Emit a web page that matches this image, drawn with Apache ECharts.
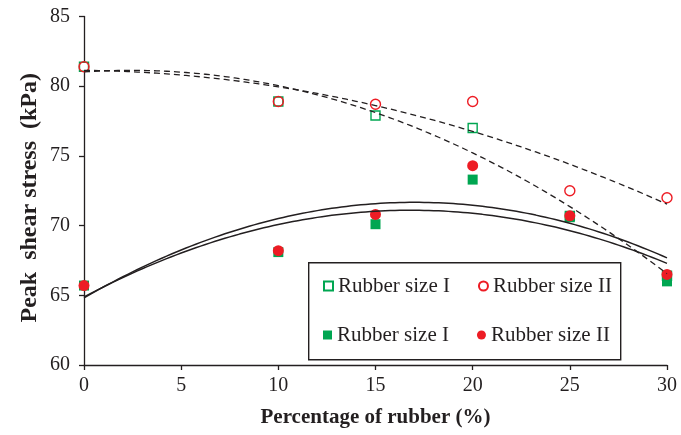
<!DOCTYPE html>
<html>
<head>
<meta charset="utf-8">
<script src="https://cdn.jsdelivr.net/npm/echarts@6/dist/echarts.min.js"></script>
<style>
  html, body { margin: 0; padding: 0; background: #fff; }
  #chart { width: 681px; height: 435px; }
</style>
</head>
<body>
<div id="chart"></div>
<script>
// Rubber content (%) and measured peak shear stress (kPa)
const rubberPct  = [0, 10, 15, 20, 25, 30];
const openSizeI  = [81.4, 78.9, 77.9, 77.0, 70.7, 66.4];
const openSizeII = [81.4, 78.9, 78.7, 78.9, 72.5, 72.0];
const fillSizeI  = [65.7, 68.1, 70.1, 73.3, 70.6, 66.0];
const fillSizeII = [65.7, 68.2, 70.8, 74.3, 70.7, 66.5];

const xTicks = [0, 5, 10, 15, 20, 25, 30];
const yTicks = [60, 65, 70, 75, 80, 85];

const seriesLabels = {
  openI: 'Rubber size I',
  openII: 'Rubber size II',
  fillI: 'Rubber size I',
  fillII: 'Rubber size II'
};

const GREEN = '#00a651';
const RED = '#ed1c24';
const INK = '#231f20';
const SERIF = '"Liberation Serif", "Times New Roman", serif';

// Least-squares second-order polynomial trend (y = c + b x + a x^2)
function quadFit(xs, ys) {
  const S = [0, 0, 0, 0, 0], T = [0, 0, 0];
  xs.forEach((x, i) => {
    for (let k = 0; k < 5; k++) S[k] += Math.pow(x, k);
    for (let k = 0; k < 3; k++) T[k] += Math.pow(x, k) * ys[i];
  });
  const M = [[S[0], S[1], S[2]], [S[1], S[2], S[3]], [S[2], S[3], S[4]]];
  const det = m => m[0][0] * (m[1][1] * m[2][2] - m[1][2] * m[2][1])
                 - m[0][1] * (m[1][0] * m[2][2] - m[1][2] * m[2][0])
                 + m[0][2] * (m[1][0] * m[2][1] - m[1][1] * m[2][0]);
  const D = det(M);
  const coef = [0, 1, 2].map(col => {
    const m = M.map((row, r) => row.map((v, c) => (c === col ? T[r] : v)));
    return det(m) / D;
  });
  return x => coef[0] + coef[1] * x + coef[2] * x * x;
}

function trendPoints(ys) {
  const f = quadFit(rubberPct, ys);
  const x0 = rubberPct[0], x1 = rubberPct[rubberPct.length - 1];
  const pts = [];
  for (let i = 0; i <= 120; i++) {
    const x = x0 + (x1 - x0) * i / 120;
    pts.push([x, f(x)]);
  }
  return pts;
}

const pairs = ys => rubberPct.map((x, i) => [x, ys[i]]);

function trendSeries(ys, dashed) {
  return {
    type: 'line',
    data: trendPoints(ys),
    showSymbol: false,
    silent: true,
    z: 5,
    lineStyle: {
      color: INK,
      width: dashed ? 1.3 : 1.5,
      type: dashed ? [6, 4] : 'solid'
    }
  };
}

const chart = echarts.init(document.getElementById('chart'), null, { renderer: 'canvas' });

const legendBase = {
  orient: 'horizontal',
  left: 323,
  padding: 0,
  itemGap: 28,
  itemWidth: 9,
  itemHeight: 9,
  z: 12,
  selectedMode: false,
  formatter: name => seriesLabels[name],
  textStyle: { fontFamily: SERIF, fontSize: 21, color: INK, lineHeight: 22 }
};

chart.setOption({
  animation: false,
  backgroundColor: '#fff',
  grid: { left: 84, right: 14, top: 16.5, bottom: 70 },
  xAxis: {
    type: 'value',
    min: xTicks[0],
    max: xTicks[xTicks.length - 1],
    interval: xTicks[1] - xTicks[0],
    name: 'Percentage of rubber (%)',
    nameLocation: 'middle',
    nameGap: 42,
    nameTextStyle: { fontFamily: SERIF, fontSize: 21, fontWeight: 'bold', color: INK },
    axisLine: { lineStyle: { color: INK, width: 1.3 } },
    axisTick: { show: true, length: 5, lineStyle: { color: INK, width: 1.3 } },
    axisLabel: { fontFamily: SERIF, fontSize: 20, color: INK, margin: 11 },
    splitLine: { show: false }
  },
  yAxis: {
    type: 'value',
    min: yTicks[0],
    max: yTicks[yTicks.length - 1],
    interval: yTicks[1] - yTicks[0],
    name: 'Peak  shear stress  (kPa)',
    nameLocation: 'middle',
    nameGap: 42,
    nameMoveOverlap: false,
    nameTextStyle: {
      fontFamily: SERIF, fontSize: 24, fontWeight: 'bold', color: INK,
      padding: [0, 14, 0, 0]
    },
    axisLine: { show: true, lineStyle: { color: INK, width: 1.3 } },
    axisTick: { show: true, length: 5, lineStyle: { color: INK, width: 1.3 } },
    axisLabel: { fontFamily: SERIF, fontSize: 20, color: INK, margin: 14 },
    splitLine: { show: false }
  },
  legend: [
    Object.assign({}, legendBase, { top: 275, data: ['openI', 'openII'] }),
    Object.assign({}, legendBase, { top: 324, data: ['fillI', 'fillII'] })
  ],
  graphic: [{
    type: 'rect',
    left: 308,
    top: 262,
    z: 10,
    shape: { width: 312, height: 97 },
    style: { fill: '#fff', stroke: INK, lineWidth: 1.4 }
  }],
  series: [
    {
      name: 'openI', type: 'scatter', symbol: 'rect', symbolSize: 9, z: 2,
      data: pairs(openSizeI),
      itemStyle: { color: '#fff', borderColor: GREEN, borderWidth: 1.4, opacity: 1 }
    },
    {
      name: 'openII', type: 'scatter', symbol: 'circle', symbolSize: 10, z: 3,
      data: pairs(openSizeII),
      itemStyle: { color: 'rgba(255,255,255,0)', borderColor: RED, borderWidth: 1.4, opacity: 1 }
    },
    {
      name: 'fillI', type: 'scatter', symbol: 'rect', symbolSize: 10, z: 3,
      data: pairs(fillSizeI),
      itemStyle: { color: GREEN, opacity: 1 }
    },
    {
      name: 'fillII', type: 'scatter', symbol: 'circle', symbolSize: 11, z: 4,
      data: pairs(fillSizeII),
      itemStyle: { color: RED, opacity: 1 }
    },
    trendSeries(openSizeI, true),
    trendSeries(openSizeII, true),
    trendSeries(fillSizeI, false),
    trendSeries(fillSizeII, false)
  ]
});
</script>
</body>
</html>
